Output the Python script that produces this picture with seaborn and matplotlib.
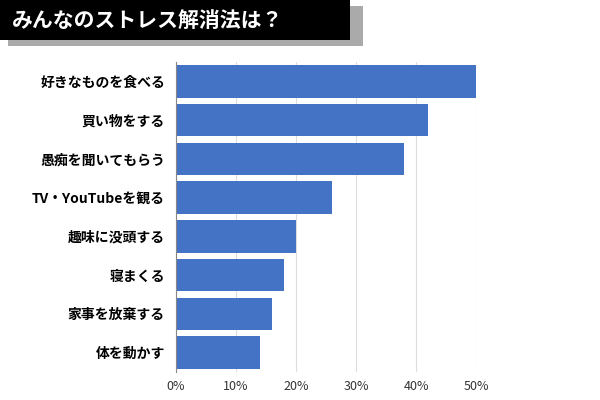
import matplotlib
matplotlib.use("Agg")
import matplotlib.pyplot as plt
import seaborn as sns
import pandas as pd
from matplotlib.patches import Rectangle

categories = ["好きなものを食べる", "買い物をする", "愚痴を聞いてもらう", "TV・YouTubeを観る",
              "趣味に没頭する", "寝まくる", "家事を放棄する", "体を動かす"]
values = [50, 42, 38, 26, 20, 18, 16, 14]
ticks = [0, 10, 20, 30, 40, 50]
tick_labels = ["0%", "10%", "20%", "30%", "40%", "50%"]
title = "みんなのストレス解消法は？"

plt.rcParams["font.family"] = "Noto Sans CJK JP"
df = pd.DataFrame({"cat": categories, "val": values})

fig = plt.figure(figsize=(6, 4), dpi=100)
ax = fig.add_axes([176/600, 1-372/400, 300/600, 310/400])
sns.barplot(data=df, x="val", y="cat", color="#4472c4", saturation=1, width=0.84, ax=ax)
ax.set_xlim(0, 50)
ax.set_xticks(ticks)
ax.set_xticklabels(tick_labels, fontsize=9, color="#333333")
ax.set_xlabel("")
ax.set_ylabel("")
ax.tick_params(axis="y", labelsize=10, length=0, pad=8)
ax.tick_params(axis="x", length=0, pad=6)
for lbl in ax.get_yticklabels():
    lbl.set_fontweight("bold")
ax.grid(axis="x", color="#dddddd", linewidth=0.8)
ax.set_axisbelow(True)
for s in ["top", "right", "bottom"]:
    ax.spines[s].set_visible(False)
ax.spines["left"].set_color("#888888")

fig.patches.append(Rectangle((8/600, 1-46/400), 355/600, 40/400, transform=fig.transFigure,
                             facecolor="#aaaaaa", edgecolor="none", zorder=0))
fig.patches.append(Rectangle((0, 1-40/400), 350/600, 40/400, transform=fig.transFigure,
                             facecolor="#000000", edgecolor="none", zorder=1))
fig.text(12/600, 1-20/400, title, color="white", fontsize=15, fontweight="bold",
         va="center", ha="left", zorder=2)
fig.savefig("out.png", dpi=100)
